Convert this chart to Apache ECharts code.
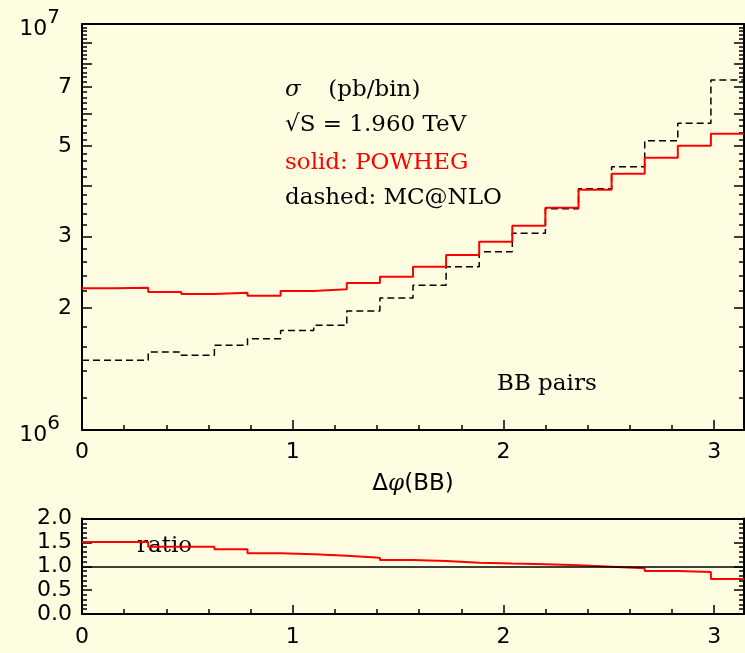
<!DOCTYPE html>
<html>
<head>
<meta charset="utf-8">
<script src="https://cdn.jsdelivr.net/npm/echarts@6/dist/echarts.min.js"></script>
<style>
  html, body { margin: 0; padding: 0; background: #fffde1; }
  #chart { width: 745px; height: 653px; }
</style>
</head>
<body>
<div id="chart"></div>
<script>
// Delta-phi(BB) histogram, 20 equal bins over [0, pi]
const NBINS = 20;
const PHI_MAX = Math.PI;

// sigma (pb/bin), POWHEG (solid red)
const powheg = [
  2.234e6, 2.242e6, 2.188e6, 2.163e6, 2.179e6, 2.142e6, 2.200e6, 2.222e6, 2.302e6, 2.386e6,
  2.525e6, 2.698e6, 2.910e6, 3.187e6, 3.528e6, 3.907e6, 4.279e6, 4.686e6, 5.015e6, 5.368e6
];
// sigma (pb/bin), MC@NLO (dashed black)
const mcatnlo = [
  1.485e6, 1.485e6, 1.556e6, 1.528e6, 1.617e6, 1.679e6, 1.757e6, 1.811e6, 1.964e6, 2.114e6,
  2.273e6, 2.525e6, 2.749e6, 3.051e6, 3.509e6, 3.929e6, 4.452e6, 5.159e6, 5.693e6, 7.278e6
];
// POWHEG / MC@NLO
const ratio = [
  1.51, 1.51, 1.41, 1.41, 1.355, 1.27, 1.25, 1.22, 1.18, 1.13,
  1.11, 1.075, 1.055, 1.04, 1.02, 0.99, 0.96, 0.90, 0.88, 0.735
];

// tick positions and labels
const xMajorTicks = [0, 1, 2, 3];
const sigmaLabelTicks = [1e6, 2e6, 3e6, 5e6, 7e6, 1e7];
const sigmaMajorTicks = [2e6, 3e6, 4e6, 5e6, 6e6, 7e6, 8e6, 9e6];
const ratioLabelTicks = [0, 0.5, 1.0, 1.5, 2.0];
const ratioMajorTicks = [0.5, 1.0, 1.5];

const xMinorTicks = [];
for (let i = 1; i <= 15; i++) if (i % 5 !== 0) xMinorTicks.push(i / 5);
const sigmaMinorTicks = [];
for (let i = 12; i <= 98; i += 2) if (i % 10 !== 0) sigmaMinorTicks.push(i * 1e5);
const ratioMinorTicks = [];
for (let i = 1; i <= 19; i++) if (i % 5 !== 0) ratioMinorTicks.push(i / 10);

// step points: left edge of each bin, plus closing point at the last edge
function stepData(values) {
  const pts = values.map((v, k) => [k * PHI_MAX / NBINS, v]);
  pts.push([PHI_MAX, values[values.length - 1]]);
  return pts;
}

const INK = '#000000';
const TICK_FONT = 'DejaVu Sans';
const TEXT_FONT = 'DejaVu Serif';
const TEXT_SIZE = 23;

function xAxisPair(gridIndex, showName) {
  const base = {
    gridIndex: gridIndex, type: 'value', min: 0, max: PHI_MAX, position: 'bottom',
    splitLine: { show: false }
  };
  const major = Object.assign({}, base, {
    axisLine: { show: true, onZero: false, lineStyle: { color: INK, width: 2 } },
    axisTick: { show: true, inside: true, length: gridIndex === 0 ? 10 : 9, customValues: xMajorTicks,
      lineStyle: { color: INK, width: 1.5 } },
    axisLabel: { show: true, customValues: xMajorTicks, margin: gridIndex === 0 ? 11 : 12,
      color: INK, fontFamily: TICK_FONT, fontSize: 22, formatter: v => String(Math.round(v)) }
  });
  if (showName) {
    Object.assign(major, {
      name: '{n|Δ}{i|φ}{n|(BB)}',
      nameLocation: 'middle',
      nameGap: 43,
      nameTextStyle: {
        rich: {
          n: { fontFamily: TICK_FONT, fontSize: 23, color: INK },
          i: { fontFamily: TEXT_FONT, fontStyle: 'italic', fontSize: 23, color: INK }
        }
      }
    });
  }
  const minor = Object.assign({}, base, {
    axisLine: { show: false, onZero: false },
    axisTick: { show: true, inside: true, length: 5, customValues: xMinorTicks,
      lineStyle: { color: INK, width: 1.5 } },
    axisLabel: { show: false }
  });
  const top = Object.assign({}, base, {
    position: 'top',
    axisLine: { show: true, onZero: false, lineStyle: { color: INK, width: 2 } },
    axisTick: { show: false },
    axisLabel: { show: false }
  });
  return [major, minor, top];
}

function yAxisSet(gridIndex, base, majorTicks, minorTicks, labelTicks, formatter, rich) {
  const axes = [];
  ['left', 'right'].forEach(side => {
    axes.push(Object.assign({}, base, {
      gridIndex: gridIndex, position: side, splitLine: { show: false },
      axisLine: { show: true, onZero: false, lineStyle: { color: INK, width: 2 } },
      axisTick: { show: true, inside: true, length: 10, customValues: majorTicks,
        lineStyle: { color: INK, width: 1.5 } },
      axisLabel: side === 'left'
        ? { show: true, customValues: labelTicks, margin: 10, color: INK,
            fontFamily: TICK_FONT, fontSize: 22, formatter: formatter, rich: rich }
        : { show: false }
    }));
    axes.push(Object.assign({}, base, {
      gridIndex: gridIndex, position: side, splitLine: { show: false },
      axisLine: { show: false, onZero: false },
      axisTick: { show: true, inside: true, length: 5, customValues: minorTicks,
        lineStyle: { color: INK, width: 1.5 } },
      axisLabel: { show: false }
    }));
  });
  return axes;
}

const sigmaAxes = yAxisSet(0, { type: 'log', logBase: 10, min: 1e6, max: 1e7 },
  sigmaMajorTicks, sigmaMinorTicks, sigmaLabelTicks,
  v => {
    const e = Math.round(Math.log10(v));
    if (Math.abs(v - Math.pow(10, e)) < 1) return '{b|10}{s|' + e + '}';
    return String(Math.round(v / 1e6));
  },
  {
    b: { fontFamily: TICK_FONT, fontSize: 22, color: INK, verticalAlign: 'bottom' },
    s: { fontFamily: TICK_FONT, fontSize: 20, color: INK, verticalAlign: 'bottom', padding: [0, 12, 12, 0] }
  });

const ratioAxes = yAxisSet(1, { type: 'value', min: 0, max: 2 },
  ratioMajorTicks, ratioMinorTicks, ratioLabelTicks,
  v => v.toFixed(1), undefined);

function note(x, y, text, color) {
  return { type: 'text', x: x, y: y, style: {
    text: text, verticalAlign: 'middle',
    font: TEXT_SIZE + 'px "DejaVu Serif"', fill: color || INK } };
}

const chart = echarts.init(document.getElementById('chart'), null, { renderer: 'canvas' });

chart.setOption({
  backgroundColor: '#fffde1',
  animation: false,
  grid: [
    { left: 82, top: 24, width: 662, height: 406, outerBoundsMode: 'none' },
    { left: 82, top: 518.5, width: 662, height: 95.5, outerBoundsMode: 'none' }
  ],
  xAxis: [].concat(xAxisPair(0, true), xAxisPair(1, false)),
  yAxis: [].concat(sigmaAxes, ratioAxes),
  series: [
    {
      name: 'POWHEG', type: 'line', xAxisIndex: 0, yAxisIndex: 0,
      step: 'end', symbol: 'none', data: stepData(powheg),
      lineStyle: { color: '#ff0000', width: 2 }, z: 3
    },
    {
      name: 'MC@NLO', type: 'line', xAxisIndex: 0, yAxisIndex: 0,
      step: 'end', symbol: 'none', data: stepData(mcatnlo),
      lineStyle: { color: INK, width: 1.5, type: [7, 4] }, z: 2
    },
    {
      name: 'ratio', type: 'line', xAxisIndex: 3, yAxisIndex: 4,
      step: 'end', symbol: 'none', data: stepData(ratio),
      lineStyle: { color: '#ff0000', width: 2 }, z: 3,
      markLine: {
        silent: true, symbol: ['none', 'none'], label: { show: false },
        lineStyle: { color: INK, width: 1.5, type: 'solid' },
        data: [{ yAxis: 1 }]
      }
    }
  ],
  graphic: [
    { type: 'text', x: 285, y: 90, style: {
      text: '{i|σ}{n|  (pb/bin)}', verticalAlign: 'middle',
      rich: {
        i: { fontFamily: TEXT_FONT, fontStyle: 'italic', fontSize: TEXT_SIZE, fill: INK },
        n: { fontFamily: TEXT_FONT, fontSize: TEXT_SIZE, fill: INK, padding: [0, 0, 0, 13] }
      } } },
    note(285, 125, '√S = 1.960 TeV'),
    note(285, 163, 'solid: POWHEG', '#ff0000'),
    note(285, 198, 'dashed: MC@NLO'),
    note(497, 384, 'BB pairs'),
    note(137, 546, 'ratio')
  ]
});
</script>
</body>
</html>
